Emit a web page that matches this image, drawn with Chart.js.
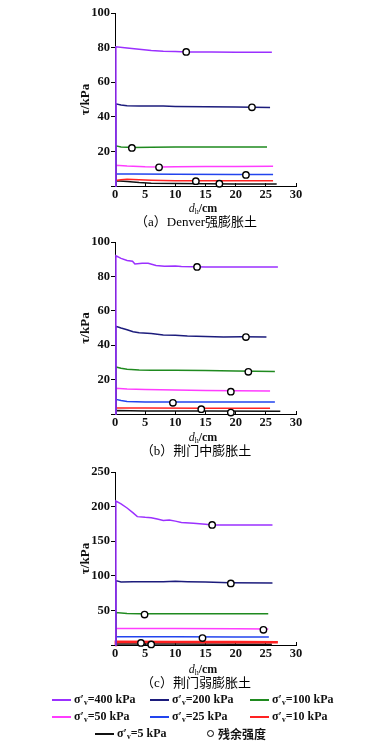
<!DOCTYPE html>
<html><head><meta charset="utf-8">
<script src="https://cdn.jsdelivr.net/npm/chart.js@4/dist/chart.umd.min.js"></script>
<style>
html,body{margin:0;padding:0;background:#fff;width:382px;height:748px;overflow:hidden;position:relative}
canvas{position:absolute;left:0}
.cap{position:absolute;left:0;width:382px;text-align:center;font:13px "Liberation Serif","Noto Sans CJK SC",serif;color:#000;line-height:15px;padding-left:10px;box-sizing:border-box}
.xt{position:absolute;left:0;width:382px;text-align:center;font:bold 12px "Liberation Serif","DejaVu Serif",serif;color:#111;line-height:14px;padding-left:24px;box-sizing:border-box}
.xt i{font-weight:normal}
.xt sub{font-size:8px;vertical-align:-2px;font-weight:normal}
.lg{position:absolute;font:bold 12px "Liberation Serif","DejaVu Serif",serif;color:#111;line-height:13px;white-space:nowrap}
.lg sub{font-size:7.5px;vertical-align:-2px}
.sw{position:absolute;height:1.6px;width:19px}
.mk{position:absolute;width:5px;height:5px;border:1.3px solid #000;border-radius:50%;background:#fff}
.cn{font-family:"Noto Sans CJK SC",sans-serif;font-weight:bold}
</style></head><body>
<canvas id="ca" width="382" height="216" style="top:0px"></canvas>
<canvas id="cb" width="382" height="215" style="top:229px"></canvas>
<canvas id="cc" width="382" height="216" style="top:459px"></canvas>
<div class="xt" style="top:201px"><i>d</i><sub>h</sub>/cm</div>
<div class="xt" style="top:430px"><i>d</i><sub>h</sub>/cm</div>
<div class="xt" style="top:662px"><i>d</i><sub>h</sub>/cm</div>
<div class="cap" style="top:214px">（a）Denver强膨胀土</div>
<div class="cap" style="top:443px">（b）荆门中膨胀土</div>
<div class="cap" style="top:675px">（c）荆门弱膨胀土</div>
<div id="legend"></div>
<script>
// ---------- data ----------
const stressLevels = ['400', '200', '100', '50', '25', '10', '5']; // σ'v, kPa
const residualLabel = '残余强度';
const xTicks = [0, 5, 10, 15, 20, 25, 30];

// (a) Denver strong expansive soil  [dh (cm), τ (kPa)]
const a400 = [[0,0],[0.15,80.5],[2,79.8],[4,79],[6,78.3],[8,77.9],[10,77.8],[12,77.5],[16,77.4],[20,77.3],[26,77.3]];
const a200 = [[0,0],[0.15,47.5],[1,46.8],[2,46.4],[4,46.2],[6,46.3],[8,46.2],[10,46],[15,45.8],[20,45.6],[25.7,45.4]];
const a100 = [[0,0],[0.15,23.2],[1,22.6],[3,22.3],[6,22.4],[10,22.5],[15,22.5],[20,22.6],[25.2,22.6]];
const a50  = [[0,0],[0.15,12],[2,11.5],[5,11.1],[7.5,11],[10,11.1],[15,11.2],[20,11.3],[26.2,11.4]];
const a25  = [[0,0],[0.15,7],[3,6.9],[10,6.8],[20,6.7],[26.2,6.6]];
const a10  = [[0,0],[0.15,3.2],[1,3.6],[2,3.9],[4,3.6],[6,3.3],[10,3],[15,3],[26.2,3]];
const a5   = [[0,0],[0.15,3],[2,2.6],[4,2],[6,1.6],[10,1.4],[15,1.3],[20,1.2],[26.8,1.1]];
const aResidual = [[11.8,77.5],[22.7,45.5],[2.8,22],[7.3,10.8],[21.7,6.4],[13.4,2.8],[17.3,1.3]];

// (b) Jingmen medium expansive soil
const b400 = [[0,0],[0.15,92],[1,90.5],[2,89.3],[2.9,88.8],[3.3,87.2],[4.5,87.6],[5.5,87.7],[6.8,86.4],[8.2,85.9],[10,86.1],[11,85.8],[13,85.6],[15,85.5],[20,85.5],[27,85.4]];
const b200 = [[0,0],[0.15,51],[1,50],[2,49],[3,47.8],[4,47.2],[6,46.8],[8,46],[10,45.8],[12,45.3],[15,45],[18,44.8],[21,44.9],[25.1,44.8]];
const b100 = [[0,0],[0.15,27.3],[1,26.6],[2,26],[4,25.6],[6,25.4],[10,25.4],[15,25.3],[20,25],[26.5,24.7]];
const b50  = [[0,0],[0.15,15],[2,14.6],[5,14.2],[10,13.9],[15,13.7],[20,13.5],[25.7,13.3]];
const b25  = [[0,0],[0.15,8.5],[1,7.8],[2,7.3],[5,7],[10,7],[20,7],[26.5,7]];
const b10  = [[0,0],[0.15,3.5],[5,3.5],[15,3.4],[25.7,3.3]];
const b5   = [[0,0],[0.15,2],[5,1.8],[15,1.7],[27.4,1.6]];
const bResidual = [[13.6,85.5],[21.7,44.7],[22.1,24.5],[19.2,13],[9.6,6.5],[14.3,2.8],[19.2,0.8]];

// (c) Jingmen weak expansive soil
const c400 = [[0,0],[0.15,208],[1,204],[2,198],[3,191],[3.7,185.5],[5,184.5],[6,184],[7,182],[8,180],[9,180.5],[10,179],[11,177],[13,176],[15,174.5],[16,173.5],[20,173.5],[26.1,173.5]];
const c200 = [[0,0],[0.15,93],[1,91],[3,91.3],[5,91.5],[8,91.5],[10,92],[12,91.5],[15,91],[19,90],[26.1,89.5]];
const c100 = [[0,0],[0.15,47],[2,45.5],[4,45],[10,45],[20,45],[25.4,45]];
const c50  = [[0,0],[0.15,24],[10,23.8],[20,23.4],[25.4,23]];
const c25  = [[0,0],[0.15,12],[10,11.8],[20,11.6],[25.5,11.5]];
const c10  = [[0,0],[0.15,4.5],[10,4.3],[20,4.2],[27,4]];
const c5   = [[0,0],[0.15,1.5],[10,1.3],[20,1.2],[26,1.2]];
const cResidual = [[16.1,173.5],[19.2,89],[4.9,44],[24.6,22],[14.5,10],[4.3,3],[6,0.8]];

// ---------- styles ----------
const COLORS = ['#9b30ff', '#1c1c7c', '#1f8a1f', '#ff3cff', '#2244ee', '#ff2222', '#111111'];
const FONT = {family: '"Liberation Serif", "DejaVu Serif", serif', size: 12.5, weight: 'bold'};

function makeChart(id, series, residual, yMax, yStep, widths) {
  const datasets = [{
    label: residualLabel,
    data: residual.map(([x, y]) => ({x, y})),
    showLine: false, pointRadius: 3.2, pointBackgroundColor: '#fff',
    pointBorderColor: '#000', pointBorderWidth: 1.4, order: 0, clip: false
  }];
  series.forEach((s, i) => datasets.push({
    label: "σ'v=" + stressLevels[i] + ' kPa',
    data: s.map(([x, y]) => ({x, y})),
    borderColor: COLORS[i], borderWidth: (widths && widths[i]) || 1.5,
    pointRadius: 0, tension: 0, clip: false, order: i + 1
  }));
  new Chart(document.getElementById(id), {
    type: 'line',
    data: {datasets},
    options: {
      responsive: false, animation: false, devicePixelRatio: 1,
      layout: {padding: {top: 13, right: 86, left: 0, bottom: 0}},
      plugins: {legend: {display: false}, tooltip: {enabled: false}},
      scales: {
        x: {
          type: 'linear', min: 0, max: 30,
          afterBuildTicks: s => { s.ticks = xTicks.map(v => ({value: v})); },
          ticks: {font: FONT, color: '#111', padding: 4, maxRotation: 0, autoSkip: false},
          grid: {drawOnChartArea: false, tickLength: -3, color: '#000', lineWidth: 1},
          border: {color: '#000', width: 1},
          title: {display: false},
          afterFit: s => { s.height = 30; }
        },
        y: {
          type: 'linear', min: 0, max: yMax,
          ticks: {stepSize: yStep, font: FONT, color: '#111', padding: 1, callback: v => v === 0 ? '' : v},
          grid: {drawOnChartArea: false, tickLength: 4, color: '#000', lineWidth: 1},
          border: {color: '#000', width: 1},
          title: {display: true, text: 'τ/kPa', font: {family: '"Liberation Serif", "DejaVu Serif", serif', size: 13, weight: 'bold'}, color: '#111', padding: {top: 78, bottom: 0}},
          afterFit: s => { s.width = 115; }
        }
      }
    }
  });
}

makeChart('ca', [a400, a200, a100, a50, a25, a10, a5], aResidual, 100, 20);
makeChart('cb', [b400, b200, b100, b50, b25, b10, b5], bResidual, 100, 20);
makeChart('cc', [c400, c200, c100, c50, c25, c10, c5], cResidual, 250, 50, [1.5, 1.5, 1.5, 1.5, 1.5, 2.6, 1.5]);

// ---------- HTML legend ----------
const legendSlots = [[52, 700], [150, 700], [250, 700], [52, 717], [150, 717], [250, 717], [95, 734]];
const lg = document.getElementById('legend');
stressLevels.forEach((s, i) => {
  const [x, y] = legendSlots[i];
  const sw = document.createElement('div');
  sw.className = 'sw'; sw.style.left = x + 'px'; sw.style.top = (y - 0.8) + 'px'; sw.style.background = COLORS[i];
  lg.appendChild(sw);
  const t = document.createElement('div');
  t.className = 'lg'; t.style.left = (x + 22) + 'px'; t.style.top = (y - 7) + 'px';
  t.innerHTML = 'σ′<sub>v</sub>=' + s + ' kPa';
  lg.appendChild(t);
});
const mk = document.createElement('div');
mk.className = 'mk'; mk.style.left = '207px'; mk.style.top = '730px';
lg.appendChild(mk);
const mt = document.createElement('div');
mt.className = 'lg cn'; mt.style.left = '218px'; mt.style.top = '726px'; mt.style.lineHeight = '15px';
mt.textContent = residualLabel;
lg.appendChild(mt);
</script>
</body></html>
